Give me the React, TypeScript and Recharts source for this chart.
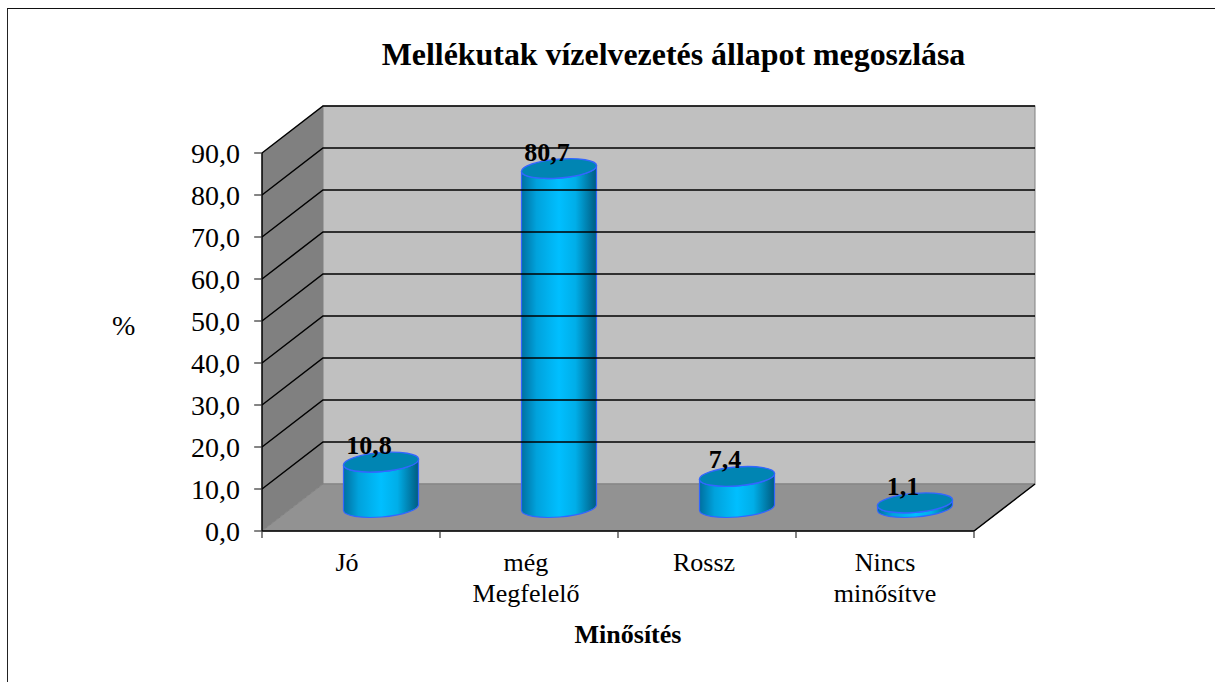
import React from "react";
import { BarChart, Bar, XAxis, YAxis, ReferenceArea, ReferenceLine, Label } from "recharts";

const categories = ["Jó", "még Megfelelő", "Rossz", "Nincs minősítve"];
const tickLines = [["Jó"], ["még", "Megfelelő"], ["Rossz"], ["Nincs", "minősítve"]];
const values = [10.8, 80.7, 7.4, 1.1];
const yTicks = [0, 10, 20, 30, 40, 50, 60, 70, 80, 90];
const gridValues = [10, 20, 30, 40, 50, 60, 70, 80, 90];
const labelTexts = ["10,8", "80,7", "7,4", "1,1"];
const tickShift = [-4, -3, -3, 0];

const data = categories.map((c, i) => ({ name: c, value: values[i] }));

const W = 1215, H = 682;
const DX = 61, DY = -47;
const SERIF = "'Liberation Serif', serif";

const Walls = (p: any) => {
  const { x, y, width, height } = p;
  const x2 = x + width, y2 = y + height;
  return (
    <g>
      <polygon points={`${x},${y} ${x + DX},${y + DY} ${x + DX},${y2 + DY} ${x},${y2}`} fill="#808080" />
      <rect x={x + DX} y={y + DY} width={width} height={height} fill="#c0c0c0" stroke="#808080" strokeWidth={1} />
      <polygon points={`${x},${y2} ${x + DX},${y2 + DY} ${x2 + DX},${y2 + DY} ${x2},${y2}`} fill="#929292" stroke="#808080" strokeWidth={1} />
      <line x1={x2} y1={y2} x2={x2 + DX} y2={y2 + DY} stroke="#000" strokeWidth={1.5} />
    </g>
  );
};

const GridLine = (p: any) => {
  const { x1, y1, x2 } = p;
  const xl = Math.min(x1, x2), xr = Math.max(x1, x2);
  return (
    <polyline points={`${xl},${y1} ${xl + DX},${y1 + DY} ${xr + DX},${y1 + DY}`} fill="none" stroke="#000" strokeWidth={1.5} />
  );
};

const Cylinder = (p: any) => {
  const { x, y, width, height, index } = p;
  const cx = x + width / 2 + DX / 2 - 1;
  const rx = width / 2;
  const top = y + DY / 2;
  const bot = y + height + DY / 2;
  const ry = 9.5, tilt = 3;
  const l = cx - rx, r = cx + rx;
  const side = `M${l},${top + tilt} L${l},${bot + tilt} A${rx},${ry} -4.6 0 0 ${r},${bot - tilt} L${r},${top - tilt} A${rx},${ry} -4.6 0 1 ${l},${top + tilt} Z`;
  return (
    <g>
      <path d={side} fill="url(#cyl)" stroke="#3366ff" strokeWidth={1.2} />
      <ellipse cx={cx} cy={top} rx={rx + 0.2} ry={ry} transform={`rotate(-4.6 ${cx} ${top})`} fill="#0085b3" stroke="#3366ff" strokeWidth={1.4} />
      <text x={cx - 12} y={top - 8} textAnchor="middle" fontFamily={SERIF} fontWeight="bold" fontSize={26} fill="#000">
        {labelTexts[index]}
      </text>
    </g>
  );
};

const XTick = (p: any) => {
  const { x, index } = p;
  const step = 712 / categories.length;
  const lx = x - step / 2;
  return (
    <g>
      <line x1={lx} y1={531} x2={lx} y2={538} stroke="#333" strokeWidth={1.2} />
      {index === categories.length - 1 && <line x1={lx + step} y1={531} x2={lx + step} y2={538} stroke="#333" strokeWidth={1.2} />}
      {tickLines[index].map((t, i) => (
        <text key={t} x={x + tickShift[index]} y={571 + i * 30.5} textAnchor="middle" fontFamily={SERIF} fontSize={26} fill="#000">
          {t}
        </text>
      ))}
    </g>
  );
};

export default function App() {
  return (
    <div style={{ position: "fixed", left: 0, top: 0, width: W, height: H, background: "#fff", overflow: "hidden" }}>
      <div style={{ position: "absolute", left: 7, top: 8, right: -5, bottom: -5, borderLeft: "1.5px solid #222", borderTop: "1.5px solid #111" }} />
      <div style={{ position: "absolute", left: 0, top: 0 }}>
        <BarChart width={W} height={H} data={data} margin={{ top: 153, right: W - 974, bottom: 0, left: 0 }} barSize={75}>
          <defs>
            <linearGradient id="cyl" x1="0" y1="0" x2="1" y2="0">
              <stop offset="0" stopColor="#0070a0" />
              <stop offset="0.2" stopColor="#00a2dc" />
              <stop offset="0.5" stopColor="#00bfff" />
              <stop offset="0.72" stopColor="#00aee8" />
              <stop offset="1" stopColor="#005b80" />
            </linearGradient>
          </defs>
          <XAxis dataKey="name" interval={0} axisLine={{ stroke: "#000", strokeWidth: 1.5 }} tickLine={false} tick={<XTick />} height={H - 531}>
            <Label value="Minősítés" position="insideTop" offset={94} fontFamily={SERIF} fontWeight="bold" fontSize={26} fill="#000" dx={10} />
          </XAxis>
          <YAxis
            domain={[0, 90]}
            ticks={yTicks}
            interval={0}
            width={262}
            tickSize={8}
            tickMargin={14}
            tickFormatter={(v: number) => v.toFixed(1).replace(".", ",")}
            axisLine={{ stroke: "#000", strokeWidth: 1.5 }}
            tickLine={{ stroke: "#333", strokeWidth: 1.2 }}
            tick={{ fontFamily: SERIF, fontSize: 28, fill: "#000" }}
          >
            <Label value="%" position="insideLeft" offset={112} dy={-17} fontFamily={SERIF} fontSize={28} fill="#000" />
          </YAxis>
          <ReferenceArea y1={0} y2={90} ifOverflow="visible" shape={<Walls />} fill="none" />
          {gridValues.map((v) => (
            <ReferenceLine key={v} y={v} ifOverflow="visible" shape={<GridLine />} />
          ))}
          <Bar dataKey="value" isAnimationActive={false} shape={<Cylinder />} />
          <text x={673.5} y={65} textAnchor="middle" fontFamily={SERIF} fontWeight="bold" fontSize={31.9} fill="#000">
            Mellékutak vízelvezetés állapot megoszlása
          </text>
        </BarChart>
      </div>
    </div>
  );
}
